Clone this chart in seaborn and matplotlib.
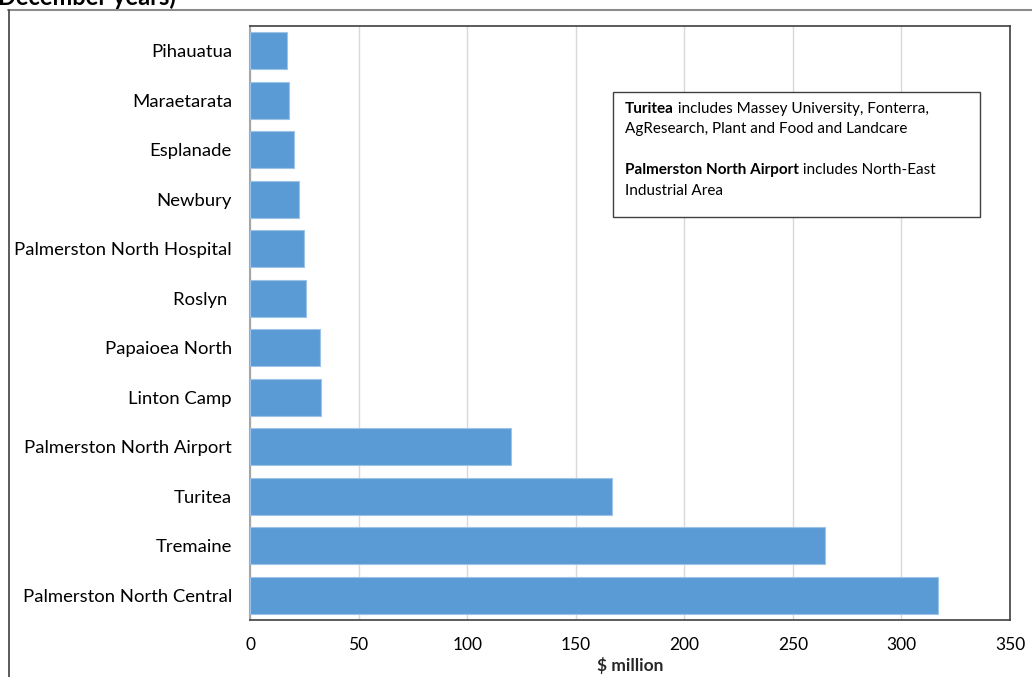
import matplotlib
matplotlib.use("Agg")
import matplotlib.pyplot as plt
import seaborn as sns
import pandas as pd
from matplotlib.patches import Rectangle

areas = ["Pihauatua", "Maraetarata", "Esplanade", "Newbury",
         "Palmerston North Hospital", "Roslyn ", "Papaioea North", "Linton Camp",
         "Palmerston North Airport", "Turitea", "Tremaine", "Palmerston North Central"]
values = [17.0, 17.8, 20.2, 22.6, 24.9, 25.7, 32.1, 32.6, 120.4, 166.6, 265.0, 317.0]
xticks = [0, 50, 100, 150, 200, 250, 300, 350]

sns.set_theme(style="white")
plt.rcParams['font.family'] = ['Lato', 'DejaVu Sans']

df = pd.DataFrame({"area": areas, "value": values})

W, H = 1032, 677
fig = plt.figure(figsize=(W / 100, H / 100), dpi=100)
ax = fig.add_axes([250 / W, 1 - 620 / H, 760 / W, 594 / H])

sns.barplot(data=df, y="area", x="value", order=areas, color="#5B9BD5",
            width=0.75, saturation=1, edgecolor="#9DC3E6", linewidth=0.8, ax=ax, zorder=3)

ax.set_xlim(0, 350)
ax.set_ylim(11.5, -0.5)
ax.set_xticks(xticks)
ax.set_xticklabels([str(t) for t in xticks], fontsize=12.5, color="#000000")
ax.tick_params(axis='y', labelsize=13.3, colors="#000000", length=0, pad=13)
ax.tick_params(axis='x', length=0, pad=12)
ax.xaxis.grid(True, color="#D9D9D9", linewidth=1, zorder=0)
ax.yaxis.grid(False)
ax.set_ylabel("")
ax.set_xlabel("$ million", fontsize=12.5, fontweight="bold", labelpad=3)

for side in ["top", "right", "bottom"]:
    ax.spines[side].set_color("#404040")
    ax.spines[side].set_linewidth(1.2)
ax.spines["left"].set_color("#A6A6A6")
ax.spines["left"].set_linewidth(1.5)
ax.set_axisbelow(True)

# outer chart frame
fig.add_artist(plt.Line2D([8 / W, 1.0], [1 - 10 / H, 1 - 10 / H], transform=fig.transFigure,
                          color="#8C8C8C", linewidth=1.5))
fig.add_artist(plt.Line2D([8.5 / W, 8.5 / W], [0, 1 - 10 / H], transform=fig.transFigure,
                          color="#404040", linewidth=1.2))

# cropped title (cut off at the top edge, as in the source)
fig.text(-2 / W, 1 - 5 / H, "December years)", fontsize=17, fontweight="bold",
         ha="left", va="baseline", color="#000000")

# annotation box
bx0, by0, bx1, by1 = 613, 92, 980, 217
fig.add_artist(Rectangle((bx0 / W, 1 - by1 / H), (bx1 - bx0) / W, (by1 - by0) / H,
                         transform=fig.transFigure, facecolor="white",
                         edgecolor="#404040", linewidth=1.0, zorder=5))

fs = 11
lines = [
    (("Turitea", True), (" includes Massey University, Fonterra,", False)),
    (("AgResearch, Plant and Food and Landcare", False),),
    (),
    (("Palmerston North Airport", True), (" includes North-East", False)),
    (("Industrial Area", False),),
]
fig.canvas.draw()
renderer = fig.canvas.get_renderer()
y = 113
for ln in lines:
    x = 625
    for txt, bold in ln:
        t = fig.text(x / W, 1 - y / H, txt, fontsize=fs, fontweight="bold" if bold else "normal",
                     ha="left", va="baseline", color="#000000", zorder=6)
        bb = t.get_window_extent(renderer=renderer)
        x += bb.width
    y += 20.5

fig.savefig("out.png", dpi=100)
